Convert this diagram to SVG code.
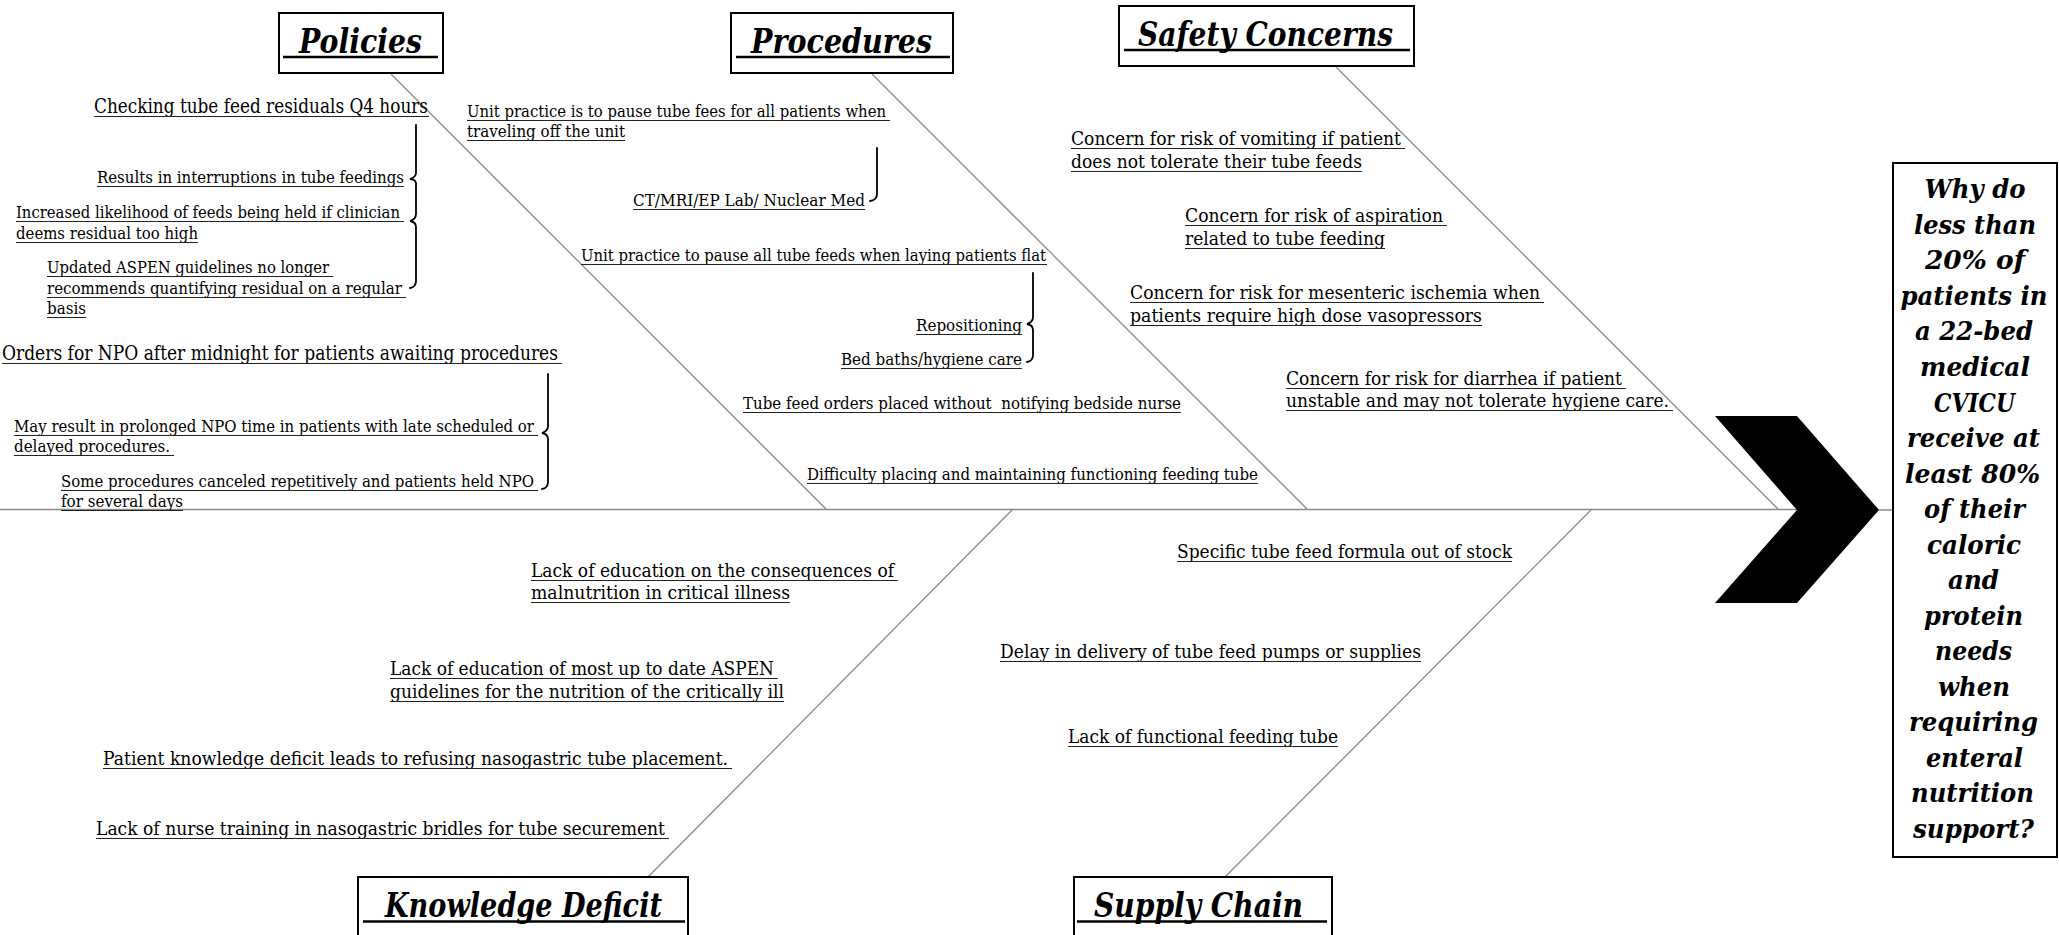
<svg xmlns="http://www.w3.org/2000/svg" width="2059" height="935" viewBox="0 0 2059 935">
<style>
.t{font-family:"DejaVu Serif","Liberation Serif",serif;fill:#000}
.s{font-size:17px}.m{font-size:18px}.b{font-size:19.5px}
.title{font-family:"DejaVu Serif","Liberation Serif",serif;font-style:italic;font-weight:bold;font-size:33px;fill:#000}
.q{font-family:"DejaVu Serif","Liberation Serif",serif;font-style:italic;font-weight:bold;font-size:26px;fill:#000}
.box{fill:#fff;stroke:#000;stroke-width:2}
.ul{stroke:#222;stroke-width:1.2;fill:none}
.tul{stroke:#000;stroke-width:2.5;fill:none}
.bone{stroke:#8a8a8a;stroke-width:1.3;fill:none}
.br{stroke:#000;stroke-width:1.8;fill:none;stroke-linecap:round}
</style>
<rect width="2059" height="935" fill="#fff"/>
<g id="connectors">
<path class="bone" d="M0,509.5 H1797 M1879,510 H1893 M391,74 L826,509 M872,74 L1307,509 M1336,67 L1778,509 M1013,509 L648,877 M1592,509 L1225,877"/>
<polygon points="1715,416 1797,416 1879,510 1797,603 1715,603 1797,510" fill="#000"/>
</g>
<g id="policies">
<rect class="box" x="279" y="13" width="164" height="60"/>
<text class="title" x="299" y="53" textLength="123" lengthAdjust="spacingAndGlyphs">Policies</text>
<path class="tul" d="M283,57 H438"/>
<text class="t b" x="94" y="113" textLength="334" lengthAdjust="spacingAndGlyphs">Checking tube feed residuals Q4 hours</text>
<text class="t s" x="97" y="183" textLength="307" lengthAdjust="spacingAndGlyphs">Results in interruptions in tube feedings</text>
<text class="t s" x="16" y="218" textLength="384" lengthAdjust="spacingAndGlyphs">Increased likelihood of feeds being held if clinician</text>
<text class="t s" x="16" y="239" textLength="182" lengthAdjust="spacingAndGlyphs">deems residual too high</text>
<text class="t s" x="47" y="273" textLength="282" lengthAdjust="spacingAndGlyphs">Updated ASPEN guidelines no longer</text>
<text class="t s" x="47" y="294" textLength="355" lengthAdjust="spacingAndGlyphs">recommends quantifying residual on a regular</text>
<text class="t s" x="47" y="314" textLength="39" lengthAdjust="spacingAndGlyphs">basis</text>
<text class="t b" x="2" y="360" textLength="556" lengthAdjust="spacingAndGlyphs">Orders for NPO after midnight for patients awaiting procedures</text>
<text class="t s" x="14" y="432" textLength="520" lengthAdjust="spacingAndGlyphs">May result in prolonged NPO time in patients with late scheduled or</text>
<text class="t s" x="14" y="452" textLength="156" lengthAdjust="spacingAndGlyphs">delayed procedures.</text>
<text class="t s" x="61" y="487" textLength="473" lengthAdjust="spacingAndGlyphs">Some procedures canceled repetitively and patients held NPO</text>
<text class="t s" x="61" y="507" textLength="122" lengthAdjust="spacingAndGlyphs">for several days</text>
<path class="ul" d="M94,116.5 H429 M97,186.5 H404 M16,221.5 H404 M16,242.5 H198 M47,276.5 H333 M47,297.5 H406 M47,317.5 H86 M2,363.5 H562 M14,435.5 H538 M14,455.5 H174 M61,490.5 H538 M61,510.5 H183"/>
<path class="br" d="M416,125 V173 Q416,177 410,179 Q415,179 416,183 V214 Q416,219 410,221 Q416,222 416,227 V281 Q416,287 410,288"/>
<path class="br" d="M548,374 V426 Q548,431 542,433 Q548,434 548,439 V482 Q548,488 542,489"/>
</g>
<g id="procedures">
<rect class="box" x="731" y="13" width="222" height="60"/>
<text class="title" x="751" y="53" textLength="181" lengthAdjust="spacingAndGlyphs">Procedures</text>
<path class="tul" d="M736,57 H950"/>
<text class="t s" x="467" y="117" textLength="419" lengthAdjust="spacingAndGlyphs">Unit practice is to pause tube fees for all patients when</text>
<text class="t s" x="467" y="137" textLength="158" lengthAdjust="spacingAndGlyphs">traveling off the unit</text>
<text class="t s" x="633" y="206" textLength="232" lengthAdjust="spacingAndGlyphs">CT/MRI/EP Lab/ Nuclear Med</text>
<text class="t s" x="581" y="261" textLength="465" lengthAdjust="spacingAndGlyphs">Unit practice to pause all tube feeds when laying patients flat</text>
<text class="t s" x="916" y="331" textLength="106" lengthAdjust="spacingAndGlyphs">Repositioning</text>
<text class="t s" x="841" y="365" textLength="181" lengthAdjust="spacingAndGlyphs">Bed baths/hygiene care</text>
<text class="t s" x="743" y="409" textLength="438" lengthAdjust="spacingAndGlyphs" xml:space="preserve">Tube feed orders placed without  notifying bedside nurse</text>
<text class="t s" x="807" y="480" textLength="451" lengthAdjust="spacingAndGlyphs">Difficulty placing and maintaining functioning feeding tube</text>
<path class="ul" d="M467,120.5 H890 M467,140.5 H625 M633,209.5 H865 M581,264.5 H1047 M916,334.5 H1022 M841,368.5 H1022 M743,412.5 H1181 M807,483.5 H1258"/>
<path class="br" d="M877,148 V194 Q877,200 870,201"/>
<path class="br" d="M1033,273 V317 Q1033,322 1027,324 Q1033,325 1033,330 V355 Q1033,361 1027,362"/>
</g>
<g id="safety">
<rect class="box" x="1119" y="6" width="295" height="60"/>
<text class="title" x="1138" y="46" textLength="255" lengthAdjust="spacingAndGlyphs">Safety Concerns</text>
<path class="tul" d="M1124,50 H1410"/>
<text class="t m" x="1071" y="145" textLength="330" lengthAdjust="spacingAndGlyphs">Concern for risk of vomiting if patient</text>
<text class="t m" x="1071" y="168" textLength="291" lengthAdjust="spacingAndGlyphs">does not tolerate their tube feeds</text>
<text class="t m" x="1185" y="222" textLength="258" lengthAdjust="spacingAndGlyphs">Concern for risk of aspiration</text>
<text class="t m" x="1185" y="245" textLength="200" lengthAdjust="spacingAndGlyphs">related to tube feeding</text>
<text class="t m" x="1130" y="299" textLength="410" lengthAdjust="spacingAndGlyphs">Concern for risk for mesenteric ischemia when</text>
<text class="t m" x="1130" y="322" textLength="352" lengthAdjust="spacingAndGlyphs">patients require high dose vasopressors</text>
<text class="t m" x="1286" y="385" textLength="336" lengthAdjust="spacingAndGlyphs">Concern for risk for diarrhea if patient</text>
<text class="t m" x="1286" y="407" textLength="383" lengthAdjust="spacingAndGlyphs">unstable and may not tolerate hygiene care.</text>
<path class="ul" d="M1071,148.5 H1405 M1071,171.5 H1362 M1185,225.5 H1447 M1185,248.5 H1385 M1130,302.5 H1544 M1130,325.5 H1482 M1286,388.5 H1626 M1286,410.5 H1673"/>
</g>
<g id="knowledge">
<rect class="box" x="358" y="877" width="330" height="70"/>
<text class="title" x="385" y="917" textLength="277" lengthAdjust="spacingAndGlyphs">Knowledge Deficit</text>
<path class="tul" d="M363,921.5 H685"/>
<text class="t m" x="531" y="577" textLength="363" lengthAdjust="spacingAndGlyphs">Lack of education on the consequences of</text>
<text class="t m" x="531" y="599" textLength="259" lengthAdjust="spacingAndGlyphs">malnutrition in critical illness</text>
<text class="t m" x="390" y="675" textLength="384" lengthAdjust="spacingAndGlyphs">Lack of education of most up to date ASPEN</text>
<text class="t m" x="390" y="698" textLength="394" lengthAdjust="spacingAndGlyphs">guidelines for the nutrition of the critically ill</text>
<text class="t m" x="103" y="765" textLength="625" lengthAdjust="spacingAndGlyphs">Patient knowledge deficit leads to refusing nasogastric tube placement.</text>
<text class="t m" x="96" y="835" textLength="569" lengthAdjust="spacingAndGlyphs">Lack of nurse training in nasogastric bridles for tube securement</text>
<path class="ul" d="M531,580.5 H898 M531,602.5 H790 M390,678.5 H778 M390,701.5 H784 M103,768.5 H732 M96,838.5 H669"/>
</g>
<g id="supply">
<rect class="box" x="1074" y="877" width="258" height="70"/>
<text class="title" x="1094" y="917" textLength="209" lengthAdjust="spacingAndGlyphs">Supply Chain</text>
<path class="tul" d="M1077,921.5 H1327"/>
<text class="t m" x="1177" y="558" textLength="335" lengthAdjust="spacingAndGlyphs">Specific tube feed formula out of stock</text>
<text class="t m" x="1000" y="658" textLength="421" lengthAdjust="spacingAndGlyphs">Delay in delivery of tube feed pumps or supplies</text>
<text class="t m" x="1068" y="743" textLength="270" lengthAdjust="spacingAndGlyphs">Lack of functional feeding tube</text>
<path class="ul" d="M1177,561.5 H1512 M1000,661.5 H1421 M1068,746.5 H1338"/>
</g>
<g id="problem">
<rect class="box" x="1893" y="163" width="164" height="694"/>
<g text-anchor="middle">
<text class="q" x="1975" y="198" textLength="101" lengthAdjust="spacingAndGlyphs">Why do</text>
<text class="q" x="1975" y="233.5" textLength="122" lengthAdjust="spacingAndGlyphs">less than</text>
<text class="q" x="1975" y="269" textLength="100" lengthAdjust="spacingAndGlyphs">20% of</text>
<text class="q" x="1974" y="304.5" textLength="147" lengthAdjust="spacingAndGlyphs">patients in</text>
<text class="q" x="1974" y="340" textLength="118" lengthAdjust="spacingAndGlyphs">a 22-bed</text>
<text class="q" x="1975" y="376" textLength="110" lengthAdjust="spacingAndGlyphs">medical</text>
<text class="q" x="1974.5" y="411.5" textLength="81" lengthAdjust="spacingAndGlyphs">CVICU</text>
<text class="q" x="1973.5" y="447" textLength="133" lengthAdjust="spacingAndGlyphs">receive at</text>
<text class="q" x="1972.5" y="482.5" textLength="135" lengthAdjust="spacingAndGlyphs">least 80%</text>
<text class="q" x="1974.5" y="518" textLength="101" lengthAdjust="spacingAndGlyphs">of their</text>
<text class="q" x="1974" y="553.5" textLength="94" lengthAdjust="spacingAndGlyphs">caloric</text>
<text class="q" x="1973.5" y="589" textLength="51" lengthAdjust="spacingAndGlyphs">and</text>
<text class="q" x="1973.5" y="624.5" textLength="99" lengthAdjust="spacingAndGlyphs">protein</text>
<text class="q" x="1973.5" y="660" textLength="77" lengthAdjust="spacingAndGlyphs">needs</text>
<text class="q" x="1974" y="695.5" textLength="72" lengthAdjust="spacingAndGlyphs">when</text>
<text class="q" x="1973.5" y="731" textLength="129" lengthAdjust="spacingAndGlyphs">requiring</text>
<text class="q" x="1974.5" y="766.5" textLength="97" lengthAdjust="spacingAndGlyphs">enteral</text>
<text class="q" x="1972.5" y="802" textLength="123" lengthAdjust="spacingAndGlyphs">nutrition</text>
<text class="q" x="1973.5" y="838" textLength="121" lengthAdjust="spacingAndGlyphs">support?</text>
</g>
</g>
</svg>
